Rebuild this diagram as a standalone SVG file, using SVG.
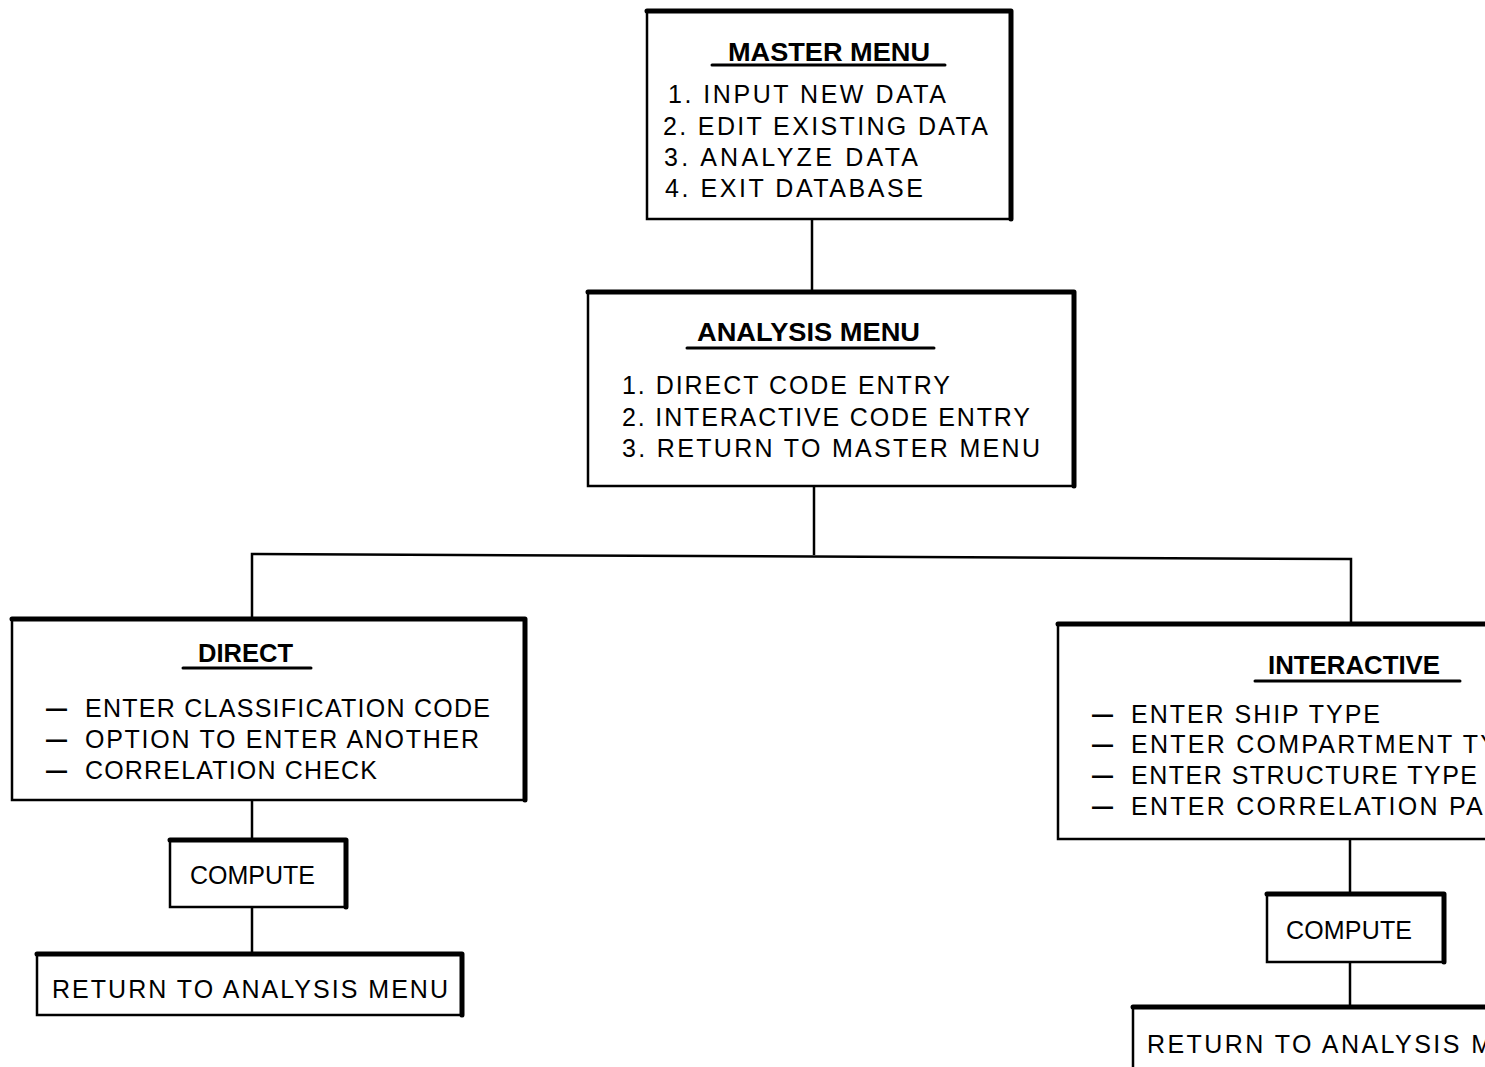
<svg xmlns="http://www.w3.org/2000/svg" width="1485" height="1067" viewBox="0 0 1485 1067">
<style>
.box{fill:#fff;stroke:#000;stroke-width:2.5}
.heavy{fill:none;stroke:#000;stroke-width:5;stroke-linecap:round;stroke-linejoin:round}
.conn{fill:none;stroke:#000;stroke-width:2.5}
.t{font-family:"Liberation Sans",Arial,sans-serif;font-size:25px;fill:#000}
.d{font-family:"Liberation Sans",Arial,sans-serif;font-size:25px;font-weight:bold;fill:#000}
.h{font-family:"Liberation Sans",Arial,sans-serif;font-size:25px;font-weight:bold;fill:#000}
.ul{stroke:#000;stroke-width:3;stroke-linecap:round}
</style>
<rect width="1485" height="1067" fill="#fff"/>
<g id="connectors">
<line class="conn" x1="812" y1="220" x2="812" y2="291"/>
<line class="conn" x1="814" y1="487" x2="814" y2="555"/>
<polyline class="conn" points="252,618 252,554 1351,559 1351,622"/>
<line class="conn" x1="252" y1="801" x2="252" y2="838"/>
<line class="conn" x1="252" y1="908" x2="252" y2="952"/>
<line class="conn" x1="1350" y1="840" x2="1350" y2="892"/>
<line class="conn" x1="1350" y1="963" x2="1350" y2="1005"/>
</g>
<g id="master-menu">
<rect class="box" x="647" y="11" width="364" height="208"/>
<path class="heavy" d="M647,11 H1011 V219"/>
<text class="h" x="728" y="61" textLength="202" lengthAdjust="spacingAndGlyphs">MASTER MENU</text>
<line class="ul" x1="712" y1="65" x2="945" y2="65"/>
<text class="t" x="668" y="103" textLength="278" lengthAdjust="spacing">1. INPUT NEW DATA</text>
<text class="t" x="663" y="135" textLength="325" lengthAdjust="spacing">2. EDIT EXISTING DATA</text>
<text class="t" x="664" y="166" textLength="254" lengthAdjust="spacing">3. ANALYZE DATA</text>
<text class="t" x="665" y="197" textLength="258" lengthAdjust="spacing">4. EXIT DATABASE</text>
</g>
<g id="analysis-menu">
<rect class="box" x="588" y="292" width="486" height="194"/>
<path class="heavy" d="M588,292 H1074 V486"/>
<text class="h" x="697" y="341" textLength="223" lengthAdjust="spacingAndGlyphs">ANALYSIS MENU</text>
<line class="ul" x1="687" y1="348" x2="934" y2="348"/>
<text class="t" x="622" y="394" textLength="328" lengthAdjust="spacing">1. DIRECT CODE ENTRY</text>
<text class="t" x="622" y="426" textLength="408" lengthAdjust="spacing">2. INTERACTIVE CODE ENTRY</text>
<text class="t" x="622" y="457" textLength="418" lengthAdjust="spacing">3. RETURN TO MASTER MENU</text>
</g>
<g id="direct">
<rect class="box" x="12" y="619" width="513" height="181"/>
<path class="heavy" d="M12,619 H525 V800"/>
<text class="h" x="198" y="662" textLength="95" lengthAdjust="spacingAndGlyphs">DIRECT</text>
<line class="ul" x1="183" y1="668" x2="311" y2="668"/>
<text class="d" x="46" y="717" textLength="21" lengthAdjust="spacingAndGlyphs">—</text>
<text class="t" x="85" y="717" textLength="405" lengthAdjust="spacing">ENTER CLASSIFICATION CODE</text>
<text class="d" x="46" y="748" textLength="21" lengthAdjust="spacingAndGlyphs">—</text>
<text class="t" x="85" y="748" textLength="394" lengthAdjust="spacing">OPTION TO ENTER ANOTHER</text>
<text class="d" x="46" y="779" textLength="21" lengthAdjust="spacingAndGlyphs">—</text>
<text class="t" x="85" y="779" textLength="292" lengthAdjust="spacing">CORRELATION CHECK</text>
</g>
<g id="compute-direct">
<rect class="box" x="170" y="840" width="176" height="67"/>
<path class="heavy" d="M170,840 H346 V907"/>
<text class="t" x="190" y="884" textLength="125" lengthAdjust="spacing">COMPUTE</text>
</g>
<g id="return-direct">
<rect class="box" x="37" y="954" width="425" height="61"/>
<path class="heavy" d="M37,954 H462 V1015"/>
<text class="t" x="52" y="998" textLength="396" lengthAdjust="spacing">RETURN TO ANALYSIS MENU</text>
</g>
<g id="interactive">
<rect class="box" x="1058" y="624" width="440" height="215"/>
<path class="heavy" d="M1058,624 H1498"/>
<text class="h" x="1268" y="674" textLength="172" lengthAdjust="spacingAndGlyphs">INTERACTIVE</text>
<line class="ul" x1="1255" y1="681" x2="1460" y2="681"/>
<text class="d" x="1092" y="723" textLength="21" lengthAdjust="spacingAndGlyphs">—</text>
<text class="t" x="1131" y="723" textLength="249" lengthAdjust="spacing">ENTER SHIP TYPE</text>
<text class="d" x="1092" y="753" textLength="21" lengthAdjust="spacingAndGlyphs">—</text>
<text class="t" x="1131" y="753" textLength="366" lengthAdjust="spacing">ENTER COMPARTMENT TY</text>
<text class="d" x="1092" y="784" textLength="21" lengthAdjust="spacingAndGlyphs">—</text>
<text class="t" x="1131" y="784" textLength="346" lengthAdjust="spacing">ENTER STRUCTURE TYPE</text>
<text class="d" x="1092" y="815" textLength="21" lengthAdjust="spacingAndGlyphs">—</text>
<text class="t" x="1131" y="815" textLength="372" lengthAdjust="spacing">ENTER CORRELATION PAR</text>
</g>
<g id="compute-interactive">
<rect class="box" x="1267" y="894" width="177" height="68"/>
<path class="heavy" d="M1267,894 H1444 V962"/>
<text class="t" x="1286" y="939" textLength="126" lengthAdjust="spacing">COMPUTE</text>
</g>
<g id="return-interactive">
<rect class="box" x="1133" y="1007" width="380" height="80"/>
<path class="heavy" d="M1133,1007 H1513"/>
<text class="t" x="1147" y="1053" textLength="345" lengthAdjust="spacing">RETURN TO ANALYSIS M</text>
</g>
</svg>
